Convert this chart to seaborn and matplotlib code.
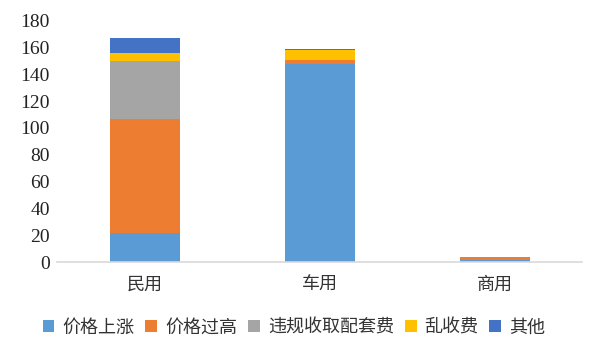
import matplotlib
matplotlib.use("Agg")
import matplotlib.pyplot as plt
import seaborn as sns
import numpy as np
import pandas as pd
from matplotlib.patches import Patch

# categories and stacked series
categories = ["民用", "车用", "商用"]
series_names = ["价格上涨", "价格过高", "违规收取配套费", "乱收费", "其他"]
price_rise = [22, 148, 1.5]
price_high = [85, 3, 2]
extra_fees = [43, 0, 0]
random_fees = [6, 7, 0]
others = [11, 1, 0]
colors = ["#5B9BD5", "#ED7D31", "#A5A5A5", "#FFC000", "#4472C4"]

sns.set_style("white")
plt.rcParams['font.family'] = ['Noto Sans CJK SC', 'DejaVu Sans']

fig = plt.figure(figsize=(6, 3.6), dpi=100)
ax = fig.add_axes([0.095, 0.272, 0.875, 0.6705])

all_series = [price_rise, price_high, extra_fees, random_fees, others]
bottom = np.zeros(len(categories))
for name, vals, c in zip(series_names, all_series, colors):
    df = pd.DataFrame({"cat": categories, "val": vals})
    sns.barplot(data=df, x="cat", y="val", color=c, bottom=bottom,
                width=0.4, ax=ax, saturation=1, edgecolor="none", linewidth=0)
    bottom = bottom + np.array(vals)

ax.set_ylim(0, 180)
ax.set_xlim(-0.5, 2.5)
ax.set_yticks(range(0, 181, 20))
ax.set_yticklabels([str(v) for v in range(0, 181, 20)],
                   family="Liberation Serif", fontsize=14, color="#222222")
ax.tick_params(axis="x", labelsize=13, colors="#333333", pad=10, length=0)
ax.tick_params(axis="y", length=0, pad=5)
ax.set_xlabel("")
ax.set_ylabel("")
for s in ["top", "right", "left"]:
    ax.spines[s].set_visible(False)
ax.spines["bottom"].set_color("#D9D9D9")
ax.spines["bottom"].set_linewidth(1.2)

handles = [Patch(facecolor=c, edgecolor="none") for c in colors]
fig.legend(handles, series_names, loc="center", bbox_to_anchor=(0.49, 0.09),
           ncol=5, frameon=False, fontsize=13, handlelength=0.65, handleheight=0.65,
           handletextpad=0.45, columnspacing=0.6, labelcolor="#333333")

fig.savefig("out.png", dpi=100)
